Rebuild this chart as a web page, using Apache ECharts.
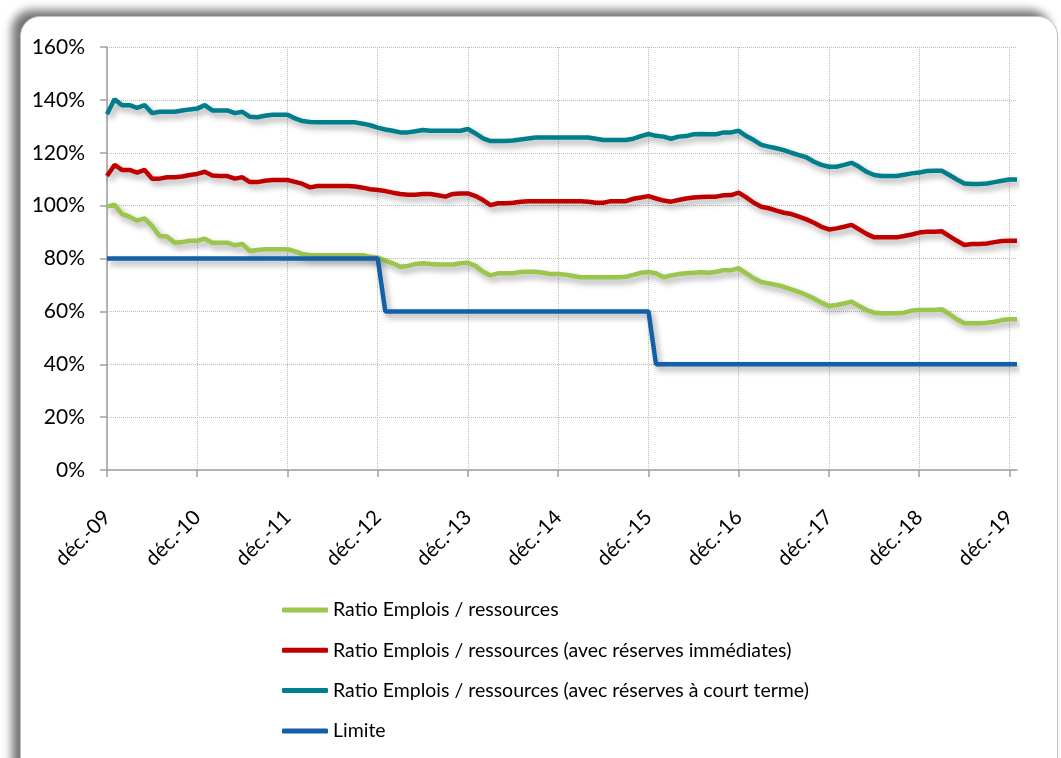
<!DOCTYPE html>
<html>
<head>
<meta charset="utf-8">
<title>Ratio Emplois / ressources</title>
<script src="https://cdn.jsdelivr.net/npm/echarts@6/dist/echarts.min.js"></script>
<style>
  html, body { margin: 0; padding: 0; background: #fff; }
  #frame {
    position: absolute; left: 20px; top: 16px; width: 1036px; height: 800px;
    background: #fff; border-radius: 20px;
    border: 1px solid #c0c0c0;
    box-shadow: -8px -6px 10px rgba(0, 0, 0, 0.55);
  }
  #chart { position: absolute; left: 0; top: 0; width: 1061px; height: 758px; }
</style>
</head>
<body>
<div id="frame"></div>
<div id="chart"></div>
<script>
// monthly points, déc.-09 -> janv.-20
var monthNames = ['janv.', 'févr.', 'mars', 'avr.', 'mai', 'juin', 'juil.', 'août', 'sept.', 'oct.', 'nov.', 'déc.']
var categories = ['déc.-09']
for (var y = 10; y <= 20; y++) {
  for (var m = 0; m < 12; m++) {
    if (y === 20 && m > 0) break
    categories.push(monthNames[m] + '-' + y)
  }
}

var seriesNames = [
  'Ratio Emplois / ressources',
  'Ratio Emplois / ressources (avec réserves immédiates)',
  'Ratio Emplois / ressources (avec réserves à court terme)',
  'Limite'
]

var ratioValues = [
  99.6, 100.4, 96.8, 95.8, 94.3, 95.2, 92.3, 88.5, 88.3, 86, 86.2, 86.7,
  86.7, 87.5, 86, 86, 86, 85, 85.5, 82.8, 83.2, 83.5, 83.5, 83.5,
  83.5, 82.7, 81.7, 81.2, 81.2, 81.2, 81.2, 81.2, 81.2, 81.2, 81.2, 80.7,
  80.3, 79.2, 78.2, 76.9, 77.2, 77.9, 78.2, 77.9, 77.7, 77.7, 77.7, 78.2,
  78.4, 77.2, 75, 73.6, 74.4, 74.4, 74.4, 74.9, 75, 75, 74.6, 74.1,
  74.1, 73.9, 73.4, 72.9, 72.9, 72.9, 72.9, 72.9, 72.9, 73.1, 73.8, 74.6,
  74.9, 74.4, 72.9, 73.6, 74.1, 74.4, 74.6, 74.8, 74.6, 75, 75.6, 75.6,
  76.3, 74.4, 72.5, 71.1, 70.6, 70, 69.3, 68.3, 67.4, 66.2, 64.9, 63.3,
  62, 62.4, 63, 63.7, 62, 60.5, 59.5, 59.3, 59.3, 59.3, 59.5, 60.3,
  60.5, 60.5, 60.5, 60.8, 59, 57, 55.5, 55.5, 55.5, 55.7, 56.1, 56.7,
  57, 57
]

var immediateValues = [
  111.2, 115.4, 113.5, 113.5, 112.5, 113.5, 110.2, 110.2, 110.7, 110.7, 111, 111.6,
  112, 112.8, 111.4, 111.2, 111.2, 110.2, 110.7, 108.9, 108.9, 109.4, 109.7, 109.7,
  109.7, 109, 108.2, 106.9, 107.4, 107.4, 107.4, 107.4, 107.4, 107.2, 106.8, 106.2,
  105.9, 105.5, 104.9, 104.4, 104.1, 104.1, 104.4, 104.4, 103.9, 103.4, 104.4, 104.6,
  104.6, 103.6, 102.1, 100.2, 100.9, 100.9, 101.1, 101.5, 101.7, 101.7, 101.7, 101.7,
  101.7, 101.7, 101.7, 101.7, 101.5, 101.1, 101.1, 101.7, 101.7, 101.7, 102.6, 103.1,
  103.6, 102.7, 101.9, 101.5, 102.1, 102.7, 103.1, 103.3, 103.4, 103.4, 103.9, 104,
  104.9, 103.1, 101.1, 99.6, 99, 98.1, 97.3, 96.8, 95.8, 94.8, 93.5, 92,
  91, 91.4, 92, 92.7, 91, 89.3, 88, 88, 88, 88, 88.5, 89.1,
  89.8, 90.1, 90.1, 90.3, 88.5, 86.7, 85.1, 85.5, 85.5, 85.7, 86.2, 86.6,
  86.7, 86.7
]

var shortTermValues = [
  134.6, 140.2, 138, 138, 137, 138, 135, 135.5, 135.5, 135.5, 136, 136.4,
  136.7, 138, 136, 136, 136, 135, 135.5, 133.6, 133.4, 134, 134.4, 134.4,
  134.4, 133, 132, 131.6, 131.5, 131.5, 131.5, 131.5, 131.5, 131.5, 131, 130.4,
  129.5, 128.8, 128.3, 127.7, 127.7, 128.1, 128.6, 128.3, 128.3, 128.3, 128.3, 128.3,
  129, 127.3, 125.4, 124.4, 124.4, 124.4, 124.6, 125, 125.4, 125.8, 125.8, 125.8,
  125.8, 125.8, 125.8, 125.8, 125.8, 125.3, 124.8, 124.8, 124.8, 124.8, 125.3, 126.3,
  127.1, 126.4, 126.1, 125.3, 126.1, 126.3, 127, 127.1, 127, 127, 127.7, 127.7,
  128.3, 126.3, 124.8, 123, 122.3, 121.7, 121, 120, 119.1, 118.3, 116.6, 115.4,
  114.7, 114.7, 115.4, 116.2, 114.7, 112.8, 111.6, 111.2, 111.2, 111.2, 111.7, 112.2,
  112.5, 113.1, 113.2, 113.2, 111.6, 109.9, 108.4, 108.2, 108.2, 108.4, 108.9, 109.4,
  109.9, 109.9
]

var limitValues = [
  80, 80, 80, 80, 80, 80, 80, 80, 80, 80, 80, 80,
  80, 80, 80, 80, 80, 80, 80, 80, 80, 80, 80, 80,
  80, 80, 80, 80, 80, 80, 80, 80, 80, 80, 80, 80,
  80, 60, 60, 60, 60, 60, 60, 60, 60, 60, 60, 60,
  60, 60, 60, 60, 60, 60, 60, 60, 60, 60, 60, 60,
  60, 60, 60, 60, 60, 60, 60, 60, 60, 60, 60, 60,
  60, 40, 40, 40, 40, 40, 40, 40, 40, 40, 40, 40,
  40, 40, 40, 40, 40, 40, 40, 40, 40, 40, 40, 40,
  40, 40, 40, 40, 40, 40, 40, 40, 40, 40, 40, 40,
  40, 40, 40, 40, 40, 40, 40, 40, 40, 40, 40, 40,
  40, 40
]

var colors = ['#9BC54B', '#C00000', '#007E8C', '#135FA8']
var font = 'Lato, "Open Sans", sans-serif'

function yearTick(index) {
  return index % 12 === 0
}

function makeLine(name, data, color) {
  return {
    name: name,
    type: 'line',
    data: data,
    showSymbol: false,
    symbol: 'none',
    animation: false,
    lineStyle: {
      color: color,
      width: 4.5,
      shadowColor: 'rgba(0,0,0,0.35)',
      shadowBlur: 6,
      shadowOffsetX: 3,
      shadowOffsetY: 4
    },
    itemStyle: { color: color }
  }
}

var chart = echarts.init(document.getElementById('chart'))
chart.setOption({
  backgroundColor: 'transparent',
  textStyle: { fontFamily: font },
  grid: {
    left: 107,
    right: 44,
    top: 47,
    bottom: 288,
    outerBoundsMode: 'none'
  },
  legend: {
    orient: 'vertical',
    left: 277,
    top: 595,
    itemWidth: 46,
    itemHeight: 5,
    itemGap: 20.3,
    icon: 'roundRect',
    textStyle: { fontFamily: font, fontSize: 19.5, color: '#000', lineHeight: 20 },
    data: seriesNames
  },
  xAxis: {
    type: 'category',
    data: categories,
    boundaryGap: false,
    axisLine: { lineStyle: { color: '#A0A0A0', width: 1.5 } },
    axisTick: { interval: yearTick, length: 7, inside: false, lineStyle: { color: '#A0A0A0', width: 1.5 } },
    axisLabel: {
      interval: yearTick,
      rotate: 45,
      margin: 44,
      fontSize: 20.5,
      color: '#000',
      fontFamily: font
    },
    splitLine: {
      show: true,
      interval: yearTick,
      lineStyle: { color: '#BDBDBD', type: 'dotted', width: 1 }
    }
  },
  yAxis: {
    type: 'value',
    min: 0,
    max: 160,
    interval: 20,
    axisLine: { show: true, lineStyle: { color: '#A0A0A0', width: 1.5 } },
    axisTick: { show: true, length: 7, lineStyle: { color: '#A0A0A0', width: 1.5 } },
    axisLabel: {
      formatter: '{value}%',
      margin: 22,
      fontSize: 21,
      color: '#000',
      fontFamily: font
    },
    splitLine: { lineStyle: { color: '#BDBDBD', type: 'dotted', width: 1 } }
  },
  series: [
    makeLine(seriesNames[0], ratioValues, colors[0]),
    makeLine(seriesNames[1], immediateValues, colors[1]),
    makeLine(seriesNames[2], shortTermValues, colors[2]),
    makeLine(seriesNames[3], limitValues, colors[3])
  ]
})
</script>
</body>
</html>
